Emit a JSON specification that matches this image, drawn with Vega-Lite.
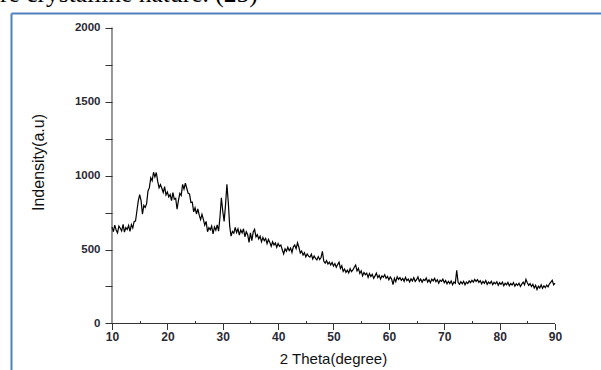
{
"$schema": "https://vega.github.io/schema/vega-lite/v6.json",
"autosize": {"type": "none"},
"padding": {"left": 11, "top": 13, "right": 0, "bottom": 0},
"width": 590,
"height": 357,
"background": "white",
"config": {"view": {"stroke": null}, "font": "Liberation Sans"},
"title": {"text": "re crystalline nature. (25)", "anchor": "start", "frame": "group", "font": "Liberation Serif", "fontSize": 25.5, "fontWeight": "normal", "color": "#000000", "offset": 0, "dx": -11, "dy": 14, "baseline": "alphabetic"},
"data": {"values": [
{"t":10,"i":652},{"t":10.25,"i":620},{"t":10.5,"i":665},{"t":10.75,"i":632},{"t":11,"i":612},{"t":11.25,"i":658},{"t":11.5,"i":644},{"t":11.75,"i":625},
{"t":12,"i":670},{"t":12.25,"i":618},{"t":12.5,"i":648},{"t":12.75,"i":635},{"t":13,"i":662},{"t":13.25,"i":622},{"t":13.5,"i":668},{"t":13.75,"i":645},
{"t":14,"i":690},{"t":14.25,"i":692},{"t":14.5,"i":762},{"t":14.75,"i":830},{"t":15,"i":870},{"t":15.25,"i":830},{"t":15.5,"i":738},{"t":15.75,"i":798},
{"t":16,"i":784},{"t":16.25,"i":810},{"t":16.5,"i":896},{"t":16.75,"i":918},{"t":17,"i":984},{"t":17.25,"i":964},{"t":17.5,"i":1022},{"t":17.75,"i":990},
{"t":18,"i":1020},{"t":18.25,"i":962},{"t":18.5,"i":917},{"t":18.75,"i":938},{"t":19,"i":914},{"t":19.25,"i":885},{"t":19.5,"i":925},{"t":19.75,"i":868},
{"t":20,"i":888},{"t":20.25,"i":855},{"t":20.5,"i":872},{"t":20.75,"i":830},{"t":21,"i":884},{"t":21.25,"i":840},{"t":21.5,"i":846},{"t":21.75,"i":772},
{"t":22,"i":832},{"t":22.25,"i":880},{"t":22.5,"i":865},{"t":22.75,"i":940},{"t":23,"i":908},{"t":23.25,"i":948},{"t":23.5,"i":914},{"t":23.75,"i":880},
{"t":24,"i":876},{"t":24.25,"i":818},{"t":24.5,"i":820},{"t":24.75,"i":754},{"t":25,"i":782},{"t":25.25,"i":740},{"t":25.5,"i":775},{"t":25.75,"i":732},
{"t":26,"i":702},{"t":26.25,"i":738},{"t":26.5,"i":704},{"t":26.75,"i":665},{"t":27,"i":690},{"t":27.25,"i":620},{"t":27.5,"i":648},{"t":27.75,"i":633},
{"t":28,"i":658},{"t":28.25,"i":606},{"t":28.5,"i":652},{"t":28.75,"i":630},{"t":29,"i":666},{"t":29.25,"i":624},{"t":29.5,"i":720},{"t":29.75,"i":850},
{"t":30,"i":760},{"t":30.25,"i":690},{"t":30.5,"i":800},{"t":30.75,"i":940},{"t":31,"i":820},{"t":31.25,"i":660},{"t":31.5,"i":590},{"t":31.75,"i":622},
{"t":32,"i":610},{"t":32.25,"i":650},{"t":32.5,"i":615},{"t":32.75,"i":640},{"t":33,"i":598},{"t":33.25,"i":632},{"t":33.5,"i":612},{"t":33.75,"i":640},
{"t":34,"i":586},{"t":34.25,"i":620},{"t":34.5,"i":600},{"t":34.75,"i":548},{"t":35,"i":612},{"t":35.25,"i":560},{"t":35.5,"i":618},{"t":35.75,"i":636},
{"t":36,"i":585},{"t":36.25,"i":600},{"t":36.5,"i":572},{"t":36.75,"i":590},{"t":37,"i":552},{"t":37.25,"i":582},{"t":37.5,"i":560},{"t":37.75,"i":575},
{"t":38,"i":540},{"t":38.25,"i":568},{"t":38.5,"i":548},{"t":38.75,"i":522},{"t":39,"i":552},{"t":39.25,"i":530},{"t":39.5,"i":545},{"t":39.75,"i":515},
{"t":40,"i":540},{"t":40.25,"i":522},{"t":40.5,"i":530},{"t":40.75,"i":498},{"t":41,"i":470},{"t":41.25,"i":505},{"t":41.5,"i":488},{"t":41.75,"i":515},
{"t":42,"i":492},{"t":42.25,"i":510},{"t":42.5,"i":480},{"t":42.75,"i":518},{"t":43,"i":530},{"t":43.25,"i":505},{"t":43.5,"i":545},{"t":43.75,"i":515},
{"t":44,"i":476},{"t":44.25,"i":490},{"t":44.5,"i":462},{"t":44.75,"i":478},{"t":45,"i":450},{"t":45.25,"i":470},{"t":45.5,"i":455},{"t":45.75,"i":448},
{"t":46,"i":468},{"t":46.25,"i":436},{"t":46.5,"i":456},{"t":46.75,"i":440},{"t":47,"i":430},{"t":47.25,"i":452},{"t":47.5,"i":432},{"t":47.75,"i":446},
{"t":48,"i":488},{"t":48.25,"i":420},{"t":48.5,"i":408},{"t":48.75,"i":425},{"t":49,"i":402},{"t":49.25,"i":414},{"t":49.5,"i":395},{"t":49.75,"i":412},
{"t":50,"i":388},{"t":50.25,"i":405},{"t":50.5,"i":380},{"t":50.75,"i":398},{"t":51,"i":415},{"t":51.25,"i":372},{"t":51.5,"i":390},{"t":51.75,"i":352},
{"t":52,"i":368},{"t":52.25,"i":345},{"t":52.5,"i":360},{"t":52.75,"i":342},{"t":53,"i":370},{"t":53.25,"i":350},{"t":53.5,"i":362},{"t":53.75,"i":380},
{"t":54,"i":395},{"t":54.25,"i":355},{"t":54.5,"i":372},{"t":54.75,"i":338},{"t":55,"i":356},{"t":55.25,"i":322},{"t":55.5,"i":345},{"t":55.75,"i":330},
{"t":56,"i":340},{"t":56.25,"i":312},{"t":56.5,"i":338},{"t":56.75,"i":318},{"t":57,"i":332},{"t":57.25,"i":305},{"t":57.5,"i":322},{"t":57.75,"i":340},
{"t":58,"i":310},{"t":58.25,"i":325},{"t":58.5,"i":300},{"t":58.75,"i":322},{"t":59,"i":312},{"t":59.25,"i":330},{"t":59.5,"i":305},{"t":59.75,"i":318},
{"t":60,"i":296},{"t":60.25,"i":315},{"t":60.5,"i":300},{"t":60.75,"i":262},{"t":61,"i":305},{"t":61.25,"i":282},{"t":61.5,"i":315},{"t":61.75,"i":298},
{"t":62,"i":310},{"t":62.25,"i":292},{"t":62.5,"i":305},{"t":62.75,"i":285},{"t":63,"i":312},{"t":63.25,"i":290},{"t":63.5,"i":300},{"t":63.75,"i":280},
{"t":64,"i":302},{"t":64.25,"i":288},{"t":64.5,"i":310},{"t":64.75,"i":284},{"t":65,"i":296},{"t":65.25,"i":315},{"t":65.5,"i":285},{"t":65.75,"i":300},
{"t":66,"i":278},{"t":66.25,"i":298},{"t":66.5,"i":290},{"t":66.75,"i":308},{"t":67,"i":280},{"t":67.25,"i":295},{"t":67.5,"i":275},{"t":67.75,"i":300},
{"t":68,"i":288},{"t":68.25,"i":305},{"t":68.5,"i":282},{"t":68.75,"i":296},{"t":69,"i":272},{"t":69.25,"i":292},{"t":69.5,"i":285},{"t":69.75,"i":300},
{"t":70,"i":276},{"t":70.25,"i":290},{"t":70.5,"i":268},{"t":70.75,"i":285},{"t":71,"i":270},{"t":71.25,"i":288},{"t":71.5,"i":262},{"t":71.75,"i":280},
{"t":72,"i":272},{"t":72.25,"i":360},{"t":72.5,"i":278},{"t":72.75,"i":265},{"t":73,"i":282},{"t":73.25,"i":268},{"t":73.5,"i":285},{"t":73.75,"i":262},
{"t":74,"i":280},{"t":74.25,"i":270},{"t":74.5,"i":288},{"t":74.75,"i":276},{"t":75,"i":292},{"t":75.25,"i":280},{"t":75.5,"i":298},{"t":75.75,"i":284},
{"t":76,"i":296},{"t":76.25,"i":278},{"t":76.5,"i":290},{"t":76.75,"i":268},{"t":77,"i":285},{"t":77.25,"i":272},{"t":77.5,"i":290},{"t":77.75,"i":265},
{"t":78,"i":280},{"t":78.25,"i":270},{"t":78.5,"i":285},{"t":78.75,"i":262},{"t":79,"i":278},{"t":79.25,"i":268},{"t":79.5,"i":282},{"t":79.75,"i":258},
{"t":80,"i":276},{"t":80.25,"i":264},{"t":80.5,"i":280},{"t":80.75,"i":255},{"t":81,"i":272},{"t":81.25,"i":262},{"t":81.5,"i":278},{"t":81.75,"i":254},
{"t":82,"i":270},{"t":82.25,"i":260},{"t":82.5,"i":276},{"t":82.75,"i":252},{"t":83,"i":268},{"t":83.25,"i":258},{"t":83.5,"i":272},{"t":83.75,"i":250},
{"t":84,"i":266},{"t":84.25,"i":280},{"t":84.5,"i":262},{"t":84.75,"i":298},{"t":85,"i":275},{"t":85.25,"i":258},{"t":85.5,"i":270},{"t":85.75,"i":250},
{"t":86,"i":265},{"t":86.25,"i":240},{"t":86.5,"i":258},{"t":86.75,"i":230},{"t":87,"i":252},{"t":87.25,"i":240},{"t":87.5,"i":262},{"t":87.75,"i":238},
{"t":88,"i":255},{"t":88.25,"i":242},{"t":88.5,"i":260},{"t":88.75,"i":248},{"t":89,"i":268},{"t":89.25,"i":280},{"t":89.5,"i":292},{"t":89.75,"i":262},
{"t":90,"i":272}
]},
"layer": [
{
"mark": {"type": "line", "color": "#000000", "strokeWidth": 1.2},
"encoding": {
"x": {"field": "t", "type": "quantitative",
"scale": {"domain": [-8.239, 98.307], "nice": false, "zero": false},
"axis": {"orient": "bottom", "offset": -46.5, "values": [10,15,20,25,30,35,40,45,50,55,60,65,70,75,80,85,90],
"domain": false, "grid": false, "tickColor": "#333333", "tickWidth": 1,
"tickSize": {"condition": {"test": "datum.value % 10 === 0", "value": 6}, "value": -3},
"labelExpr": "datum.value % 10 === 0 ? datum.label : ''", "labelOverlap": false, "labelFlush": false,
"labelFont": "Liberation Sans", "labelFontSize": 12, "labelFontWeight": "bold", "labelColor": "#2a2a35", "labelPadding": 2,
"title": "2 Theta(degree)", "titleFont": "Liberation Sans", "titleFontSize": 15, "titleFontWeight": "normal", "titleColor": "#111111",
"titleX": 322, "titleY": 40, "titleBaseline": "alphabetic", "titleAlign": "center"}},
"y": {"field": "i", "type": "quantitative",
"scale": {"domain": [-314.2, 2098], "nice": false, "zero": false},
"axis": {"orient": "left", "offset": -101, "values": [0,250,500,750,1000,1250,1500,1750,2000], "format": "d",
"domain": false, "grid": false, "tickColor": "#333333", "tickWidth": 1, "tickSize": 7,
"labelExpr": "datum.value % 500 === 0 ? datum.label : ''", "labelOverlap": false, "labelFlush": false,
"labelFont": "Liberation Sans", "labelFontSize": 11.5, "labelFontWeight": "bold", "labelColor": "#2a2a35", "labelPadding": 5,
"title": "Indensity(a.u)", "titleFont": "Liberation Sans", "titleFontSize": 16, "titleFontWeight": "normal", "titleColor": "#111111",
"titleX": -69, "titleY": 149, "titleAngle": 270, "titleBaseline": "alphabetic", "titleAlign": "center"}}
}
},
{
"data": {"values": [{"a": 1}]},
"mark": {"type": "rule", "color": "#333333", "strokeWidth": 1},
"encoding": {
"x": {"datum": 10, "type": "quantitative",
"axis": {"orient": "top", "domain": true, "domainColor": "#4F81BD", "domainWidth": 2, "ticks": false, "labels": false, "grid": false, "title": null}},
"x2": {"datum": 90},
"y": {"datum": 0, "type": "quantitative",
"axis": {"orient": "left", "offset": 0, "domain": true, "domainColor": "#4F81BD", "domainWidth": 2, "ticks": false, "labels": false, "grid": false, "title": null}}
}
},
{
"data": {"values": [{"a": 1}]},
"mark": {"type": "rule", "color": "#333333", "strokeWidth": 1},
"encoding": {
"x": {"datum": 10, "type": "quantitative", "axis": null},
"y": {"datum": 0, "type": "quantitative", "axis": null},
"y2": {"datum": 2000}
}
}
],
"resolve": {"axis": {"x": "independent", "y": "independent"}}
}
